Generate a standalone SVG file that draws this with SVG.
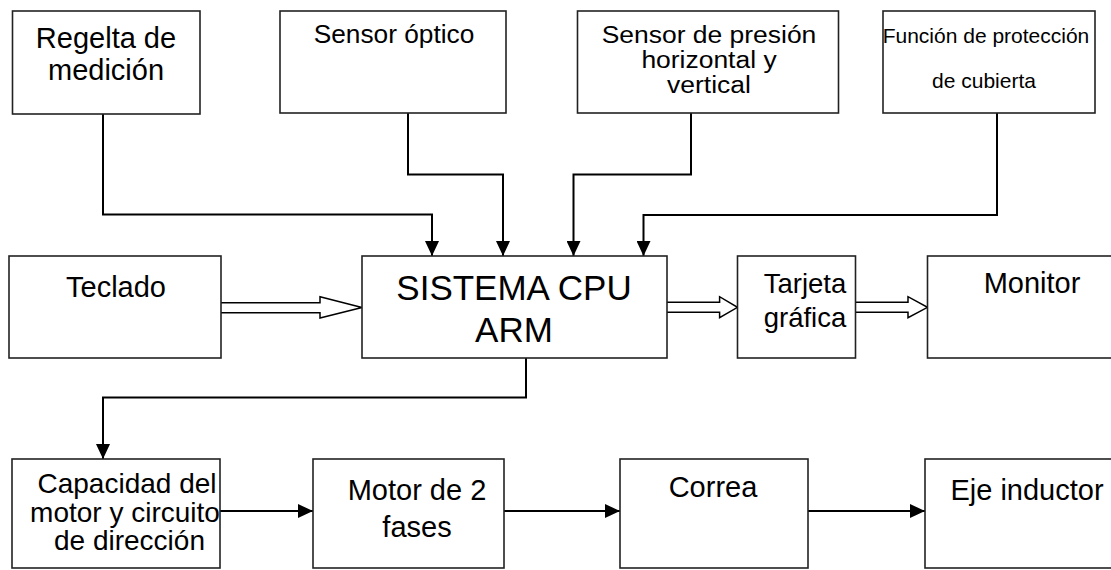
<svg xmlns="http://www.w3.org/2000/svg" width="1111" height="570" viewBox="0 0 1111 570">
<defs>
<style>
.box{fill:#fff;stroke:#222;stroke-width:1.6}
.t{font-family:"Liberation Sans",Arial,sans-serif;fill:#000;text-anchor:middle}
.con{fill:none;stroke:#000;stroke-width:2}
.hol{fill:#fff;stroke:#000;stroke-width:1.5;stroke-linejoin:miter}
</style>
<marker id="ah" viewBox="0 0 15 14" refX="15" refY="7" markerWidth="15" markerHeight="14" markerUnits="userSpaceOnUse" orient="auto">
<path d="M0,0 L15,7 L0,14 Z" fill="#000"/>
</marker>
</defs>
<rect width="1111" height="570" fill="#fff"/>

<g id="connectors">
<path class="con" marker-end="url(#ah)" d="M103,114 V214.5 H432 V256"/>
<path class="con" marker-end="url(#ah)" d="M408,113 V174.5 H503 V256"/>
<path class="con" marker-end="url(#ah)" d="M691,113 V174.5 H573.5 V256"/>
<path class="con" marker-end="url(#ah)" d="M997,113 V215 H643.5 V256"/>
<path class="con" marker-end="url(#ah)" d="M526,358 V397.5 H103 V459"/>
<path class="con" marker-end="url(#ah)" d="M220,511 H313"/>
<path class="con" marker-end="url(#ah)" d="M504,511 H620"/>
<path class="con" marker-end="url(#ah)" d="M808,511 H925"/>
<path class="hol" d="M221,302.7 H320 V296.7 L362,307.5 L320,318 V312.7 H221"/>
<path class="hol" d="M667,302.3 H719.6 V296.7 L737.5,307.3 L719.6,317.7 V312.3 H667"/>
<path class="hol" d="M855.7,302.3 H908 V296.7 L927.5,307.3 L908,317.7 V312.3 H855.7"/>
</g>

<g id="regelta">
<rect class="box" x="12.5" y="11" width="187.5" height="103"/>
<text class="t" font-size="29" x="106" y="48.3">Regelta de</text>
<text class="t" font-size="29" x="106" y="80">medición</text>
</g>
<g id="sensor-optico">
<rect class="box" x="280" y="11" width="226" height="102"/>
<text class="t" font-size="25" transform="translate(394,42.7) scale(1.05,1)">Sensor óptico</text>
</g>
<g id="sensor-presion">
<rect class="box" x="577.5" y="11" width="261" height="102"/>
<text class="t" font-size="24.5" transform="translate(709,43.3) scale(1.08,1)">Sensor de presión</text>
<text class="t" font-size="24.5" transform="translate(709,68.3) scale(1.08,1)">horizontal y</text>
<text class="t" font-size="24.5" transform="translate(709,93.3) scale(1.08,1)">vertical</text>
</g>
<g id="funcion-proteccion">
<rect class="box" x="883" y="11" width="212" height="102"/>
<text class="t" font-size="21" x="986" y="43.3">Función de protección</text>
<text class="t" font-size="21" x="984" y="88.3">de cubierta</text>
</g>
<g id="teclado">
<rect class="box" x="9" y="256" width="212" height="102"/>
<text class="t" font-size="29" x="116" y="296.7">Teclado</text>
</g>
<g id="cpu">
<rect class="box" x="362" y="256" width="305" height="102"/>
<text class="t" font-size="35" x="514" y="300">SISTEMA CPU</text>
<text class="t" font-size="35" x="514" y="341.7">ARM</text>
</g>
<g id="tarjeta">
<rect class="box" x="737.5" y="256" width="118" height="102"/>
<text class="t" font-size="27.5" x="805" y="293.3">Tarjeta</text>
<text class="t" font-size="27.5" x="805" y="326.7">gráfica</text>
</g>
<g id="monitor">
<rect class="box" x="927.5" y="256" width="190" height="102"/>
<text class="t" font-size="29" x="1032" y="293.3">Monitor</text>
</g>
<g id="capacidad">
<rect class="box" x="12" y="459" width="208" height="109"/>
<text class="t" font-size="28" x="127" y="493.3">Capacidad del</text>
<text class="t" font-size="28" x="125" y="521.7">motor y circuito</text>
<text class="t" font-size="28" x="129.5" y="550">de dirección</text>
</g>
<g id="motor">
<rect class="box" x="313" y="459" width="191" height="109"/>
<text class="t" font-size="29" x="417" y="500">Motor de 2</text>
<text class="t" font-size="29" x="417" y="536.7">fases</text>
</g>
<g id="correa">
<rect class="box" x="620" y="459" width="188" height="109"/>
<text class="t" font-size="29" x="713" y="496.7">Correa</text>
</g>
<g id="eje">
<rect class="box" x="925" y="459" width="195" height="109"/>
<text class="t" font-size="29" x="1027" y="500">Eje inductor</text>
</g>
</svg>
